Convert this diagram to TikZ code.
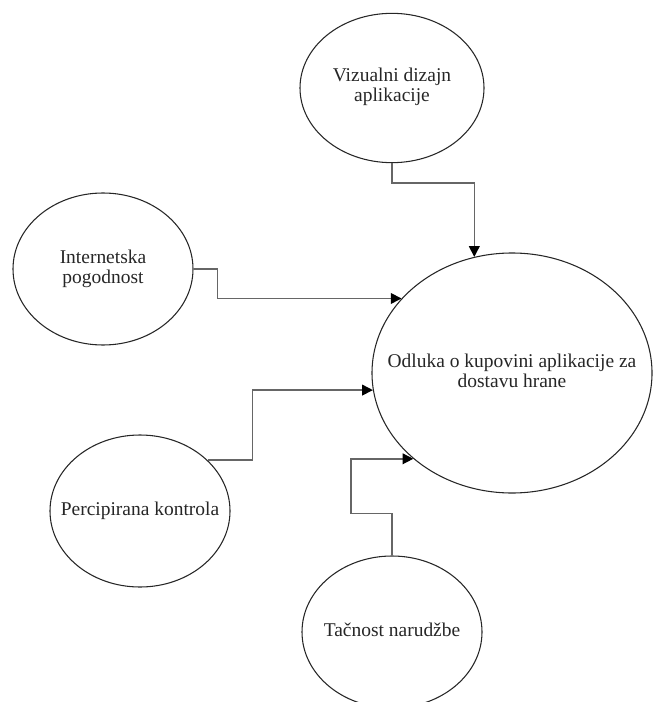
\documentclass[tikz,border=0pt]{standalone}
\usepackage{fontspec}
\setmainfont{Liberation Serif}
\usetikzlibrary{shapes.geometric,arrows.meta}

% text that does not widen the ellipse round it
\newcommand{\bubtext}[1]{\makebox[0pt]{\begin{tabular}{@{}c@{}}#1\end{tabular}}}

\begin{document}
\begin{tikzpicture}[x=0.75pt, y=-0.75pt,
    bubble/.style={draw=black!85, line width=0.8pt, ellipse, inner sep=0pt, text=black!85,
                   font=\fontsize{14.6pt}{15pt}\selectfont},
    conn/.style={draw=black!60, line width=1.1pt, -{Triangle[length=8pt, width=8pt, color=black]}}]
    \useasboundingbox (0,0) rectangle (653,702);

    \node[bubble, minimum width=138pt, minimum height=112pt] (viz)  at (392,88)  {\bubtext{Vizualni dizajn\\aplikacije}};
    \node[bubble, minimum width=135pt, minimum height=114pt] (int)  at (103,269) {\bubtext{Internetska\\pogodnost}};
    \node[bubble, minimum width=210pt, minimum height=180pt] (odl)  at (512,373) {\bubtext{Odluka o kupovini aplikacije za\\dostavu hrane}};
    \node[bubble, minimum width=135pt, minimum height=114pt] (perc) at (140,511) {\bubtext{Percipirana kontrola}};
    \node[bubble, minimum width=135pt, minimum height=114pt] (tac)  at (392,632) {\bubtext{Tačnost narudžbe}};

    \draw[conn] (viz.south) -- ++(0,20) -| (odl.108);
    \draw[conn] (int.east) -- ++(24,0) |- (odl.146);
    \draw[conn] (perc.37) -- ++(45,0) |- (odl.187);
    \draw[conn] (tac.north) -- ++(0,-42) -- ++(-41,0) |- (odl.221);
\end{tikzpicture}
\end{document}
